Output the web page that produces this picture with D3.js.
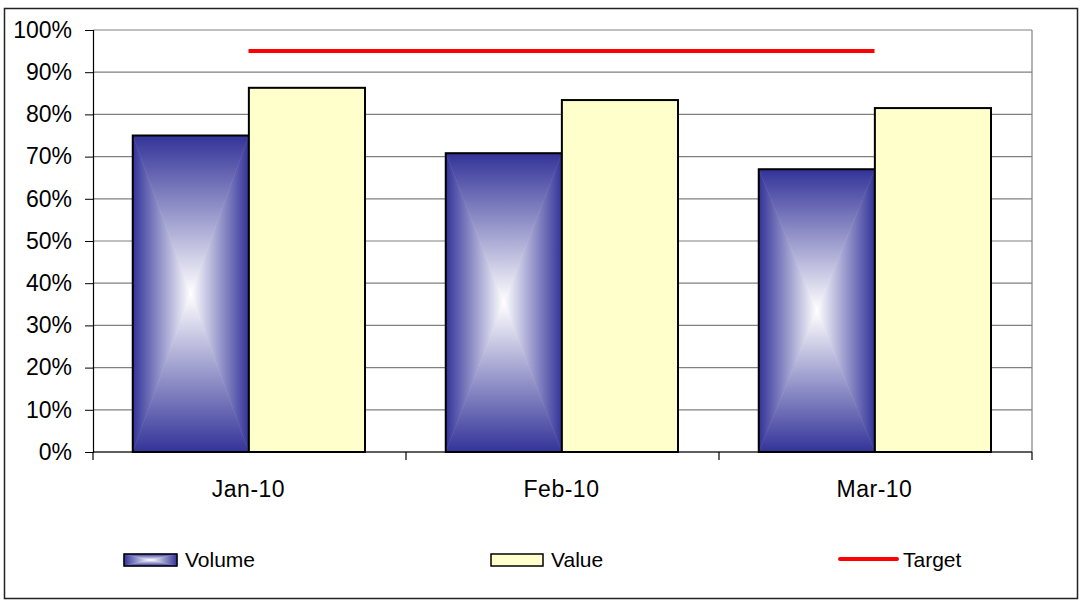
<!DOCTYPE html>
<html>
<head>
<meta charset="utf-8">
<script src="https://cdn.jsdelivr.net/npm/d3@7"></script>
<style>
  body { margin: 0; background: #fff; }
  svg { display: block; font-family: "Liberation Sans", Arial, sans-serif; }
</style>
</head>
<body>
<svg id="chart" width="1080" height="607"></svg>
<script>
// chart data
var months = ["Jan-10", "Feb-10", "Mar-10"];
var volume = [0.75, 0.708, 0.67];
var value = [0.863, 0.834, 0.815];
var target = [0.95, 0.95, 0.95];
var yTicks = [0, 0.1, 0.2, 0.3, 0.4, 0.5, 0.6, 0.7, 0.8, 0.9, 1.0];
var seriesNames = ["Volume", "Value"];

var svg = d3.select("#chart");
var margin = {top: 30, right: 48, bottom: 155, left: 93};
var width = 1080 - margin.left - margin.right,
    height = 607 - margin.top - margin.bottom;

// outer frame
svg.append("rect")
    .attr("x", 4.5).attr("y", 8.5)
    .attr("width", 1073).attr("height", 590)
    .attr("fill", "#fff").attr("stroke", "#222").attr("stroke-width", 1.5);

// gradients for the "from centre" box fill of the Volume bars
var defs = svg.append("defs");
var dark = "#333399";
[["gl", 0, 0, 1, 0], ["gr", 1, 0, 0, 0], ["gt", 0, 0, 0, 1], ["gb", 0, 1, 0, 0]].forEach(function(d) {
  var lg = defs.append("linearGradient").attr("id", d[0])
      .attr("x1", d[1]).attr("y1", d[2]).attr("x2", d[3]).attr("y2", d[4]);
  lg.append("stop").attr("offset", 0).attr("stop-color", dark);
  lg.append("stop").attr("offset", 1).attr("stop-color", "#ffffff");
});

function boxGradient(sel, x0, y0, w, h) {
  var x1 = x0 + w, y1 = y0 + h, cx = x0 + w / 2, cy = y0 + h / 2;
  var tris = [
    ["gl", [[x0, y0], [x0, y1], [cx, cy]]],
    ["gr", [[x1, y0], [x1, y1], [cx, cy]]],
    ["gt", [[x0, y0], [x1, y0], [cx, cy]]],
    ["gb", [[x0, y1], [x1, y1], [cx, cy]]]
  ];
  tris.forEach(function(t) {
    sel.append("path")
        .attr("d", "M" + t[1].join("L") + "Z")
        .attr("fill", "url(#" + t[0] + ")")
        .attr("stroke", "url(#" + t[0] + ")")
        .attr("stroke-width", 0.6);
  });
}

var g = svg.append("g").attr("transform", "translate(" + margin.left + "," + margin.top + ")");

var x0 = d3.scaleBand().domain(months).range([0, width]);
var x1 = d3.scaleBand().domain(seriesNames)
    .range([x0.bandwidth() * 0.127, x0.bandwidth() * 0.869]);
var y = d3.scaleLinear().domain([0, 1]).range([height, 0]);

// gridlines
g.selectAll(".grid").data(yTicks).enter().append("line")
    .attr("x1", 0).attr("x2", width)
    .attr("y1", function(d) { return y(d); }).attr("y2", function(d) { return y(d); })
    .attr("stroke", "#808080").attr("stroke-width", 1.2);

// plot area right edge
g.append("line").attr("x1", width).attr("x2", width).attr("y1", 0).attr("y2", height)
    .attr("stroke", "#808080").attr("stroke-width", 1.2);

// y axis
var yAxis = g.append("g")
    .call(d3.axisLeft(y).tickValues(yTicks).tickSize(8).tickPadding(13)
      .tickFormat(d3.format(".0%")));
yAxis.select(".domain").attr("stroke", "#000").attr("stroke-width", 1.2);
yAxis.selectAll(".tick line").attr("stroke", "#000");
yAxis.selectAll("text").attr("font-size", "23px").attr("fill", "#000")
    .attr("font-family", "Liberation Sans, Arial, sans-serif");

// bars
var groups = g.selectAll(".cat").data(months).enter().append("g")
    .attr("transform", function(d) { return "translate(" + x0(d) + ",0)"; });

groups.each(function(m, i) {
  var sel = d3.select(this);
  var vx = x1("Volume"), vy = y(volume[i]), vh = height - y(volume[i]);
  boxGradient(sel, vx, vy, x1.bandwidth(), vh);
  sel.append("rect").attr("x", vx).attr("y", vy)
      .attr("width", x1.bandwidth()).attr("height", vh)
      .attr("fill", "none").attr("stroke", "#000").attr("stroke-width", 2);
  sel.append("rect").attr("x", x1("Value")).attr("y", y(value[i]))
      .attr("width", x1.bandwidth()).attr("height", height - y(value[i]))
      .attr("fill", "#ffffcc").attr("stroke", "#000").attr("stroke-width", 2);
});

// x axis
g.append("line").attr("x1", 0).attr("x2", width).attr("y1", height).attr("y2", height)
    .attr("stroke", "#000").attr("stroke-width", 1.2);
g.selectAll(".xtick").data(d3.range(months.length + 1)).enter().append("line")
    .attr("x1", function(d) { return d * x0.step(); })
    .attr("x2", function(d) { return d * x0.step(); })
    .attr("y1", height).attr("y2", height + 8)
    .attr("stroke", "#000").attr("stroke-width", 1.2);
g.selectAll(".xlab").data(months).enter().append("text")
    .attr("x", function(d) { return x0(d) + x0.bandwidth() / 2 - 1; })
    .attr("y", height + 45)
    .attr("text-anchor", "middle")
    .attr("font-size", "23px")
    .attr("letter-spacing", "0.5px")
    .text(function(d) { return d; });

// target line
var line = d3.line()
    .x(function(d, i) { return x0(months[i]) + x0.bandwidth() / 2 - 1; })
    .y(function(d) { return y(d); });
g.append("path").datum(target)
    .attr("d", line)
    .attr("fill", "none").attr("stroke", "#ff0000").attr("stroke-width", 4);

// legend
var leg = svg.append("g").attr("transform", "translate(0,560)");
var volLeg = leg.append("g");
boxGradient(volLeg, 124, -6, 53, 12);
volLeg.append("rect").attr("x", 124).attr("y", -6).attr("width", 53).attr("height", 12)
    .attr("fill", "none").attr("stroke", "#000").attr("stroke-width", 1.5);
leg.append("text").attr("x", 185).attr("y", 7).attr("font-size", "21px").text("Volume");

leg.append("rect").attr("x", 491).attr("y", -6).attr("width", 52).attr("height", 12)
    .attr("fill", "#ffffcc").attr("stroke", "#000").attr("stroke-width", 1.5);
leg.append("text").attr("x", 551).attr("y", 7).attr("font-size", "21px").text("Value");

leg.append("line").attr("x1", 840).attr("x2", 897).attr("y1", -1).attr("y2", -1)
    .attr("stroke", "#ff0000").attr("stroke-width", 4).attr("stroke-linecap", "round");
leg.append("text").attr("x", 903).attr("y", 7).attr("font-size", "21px").text("Target");
</script>
</body>
</html>
